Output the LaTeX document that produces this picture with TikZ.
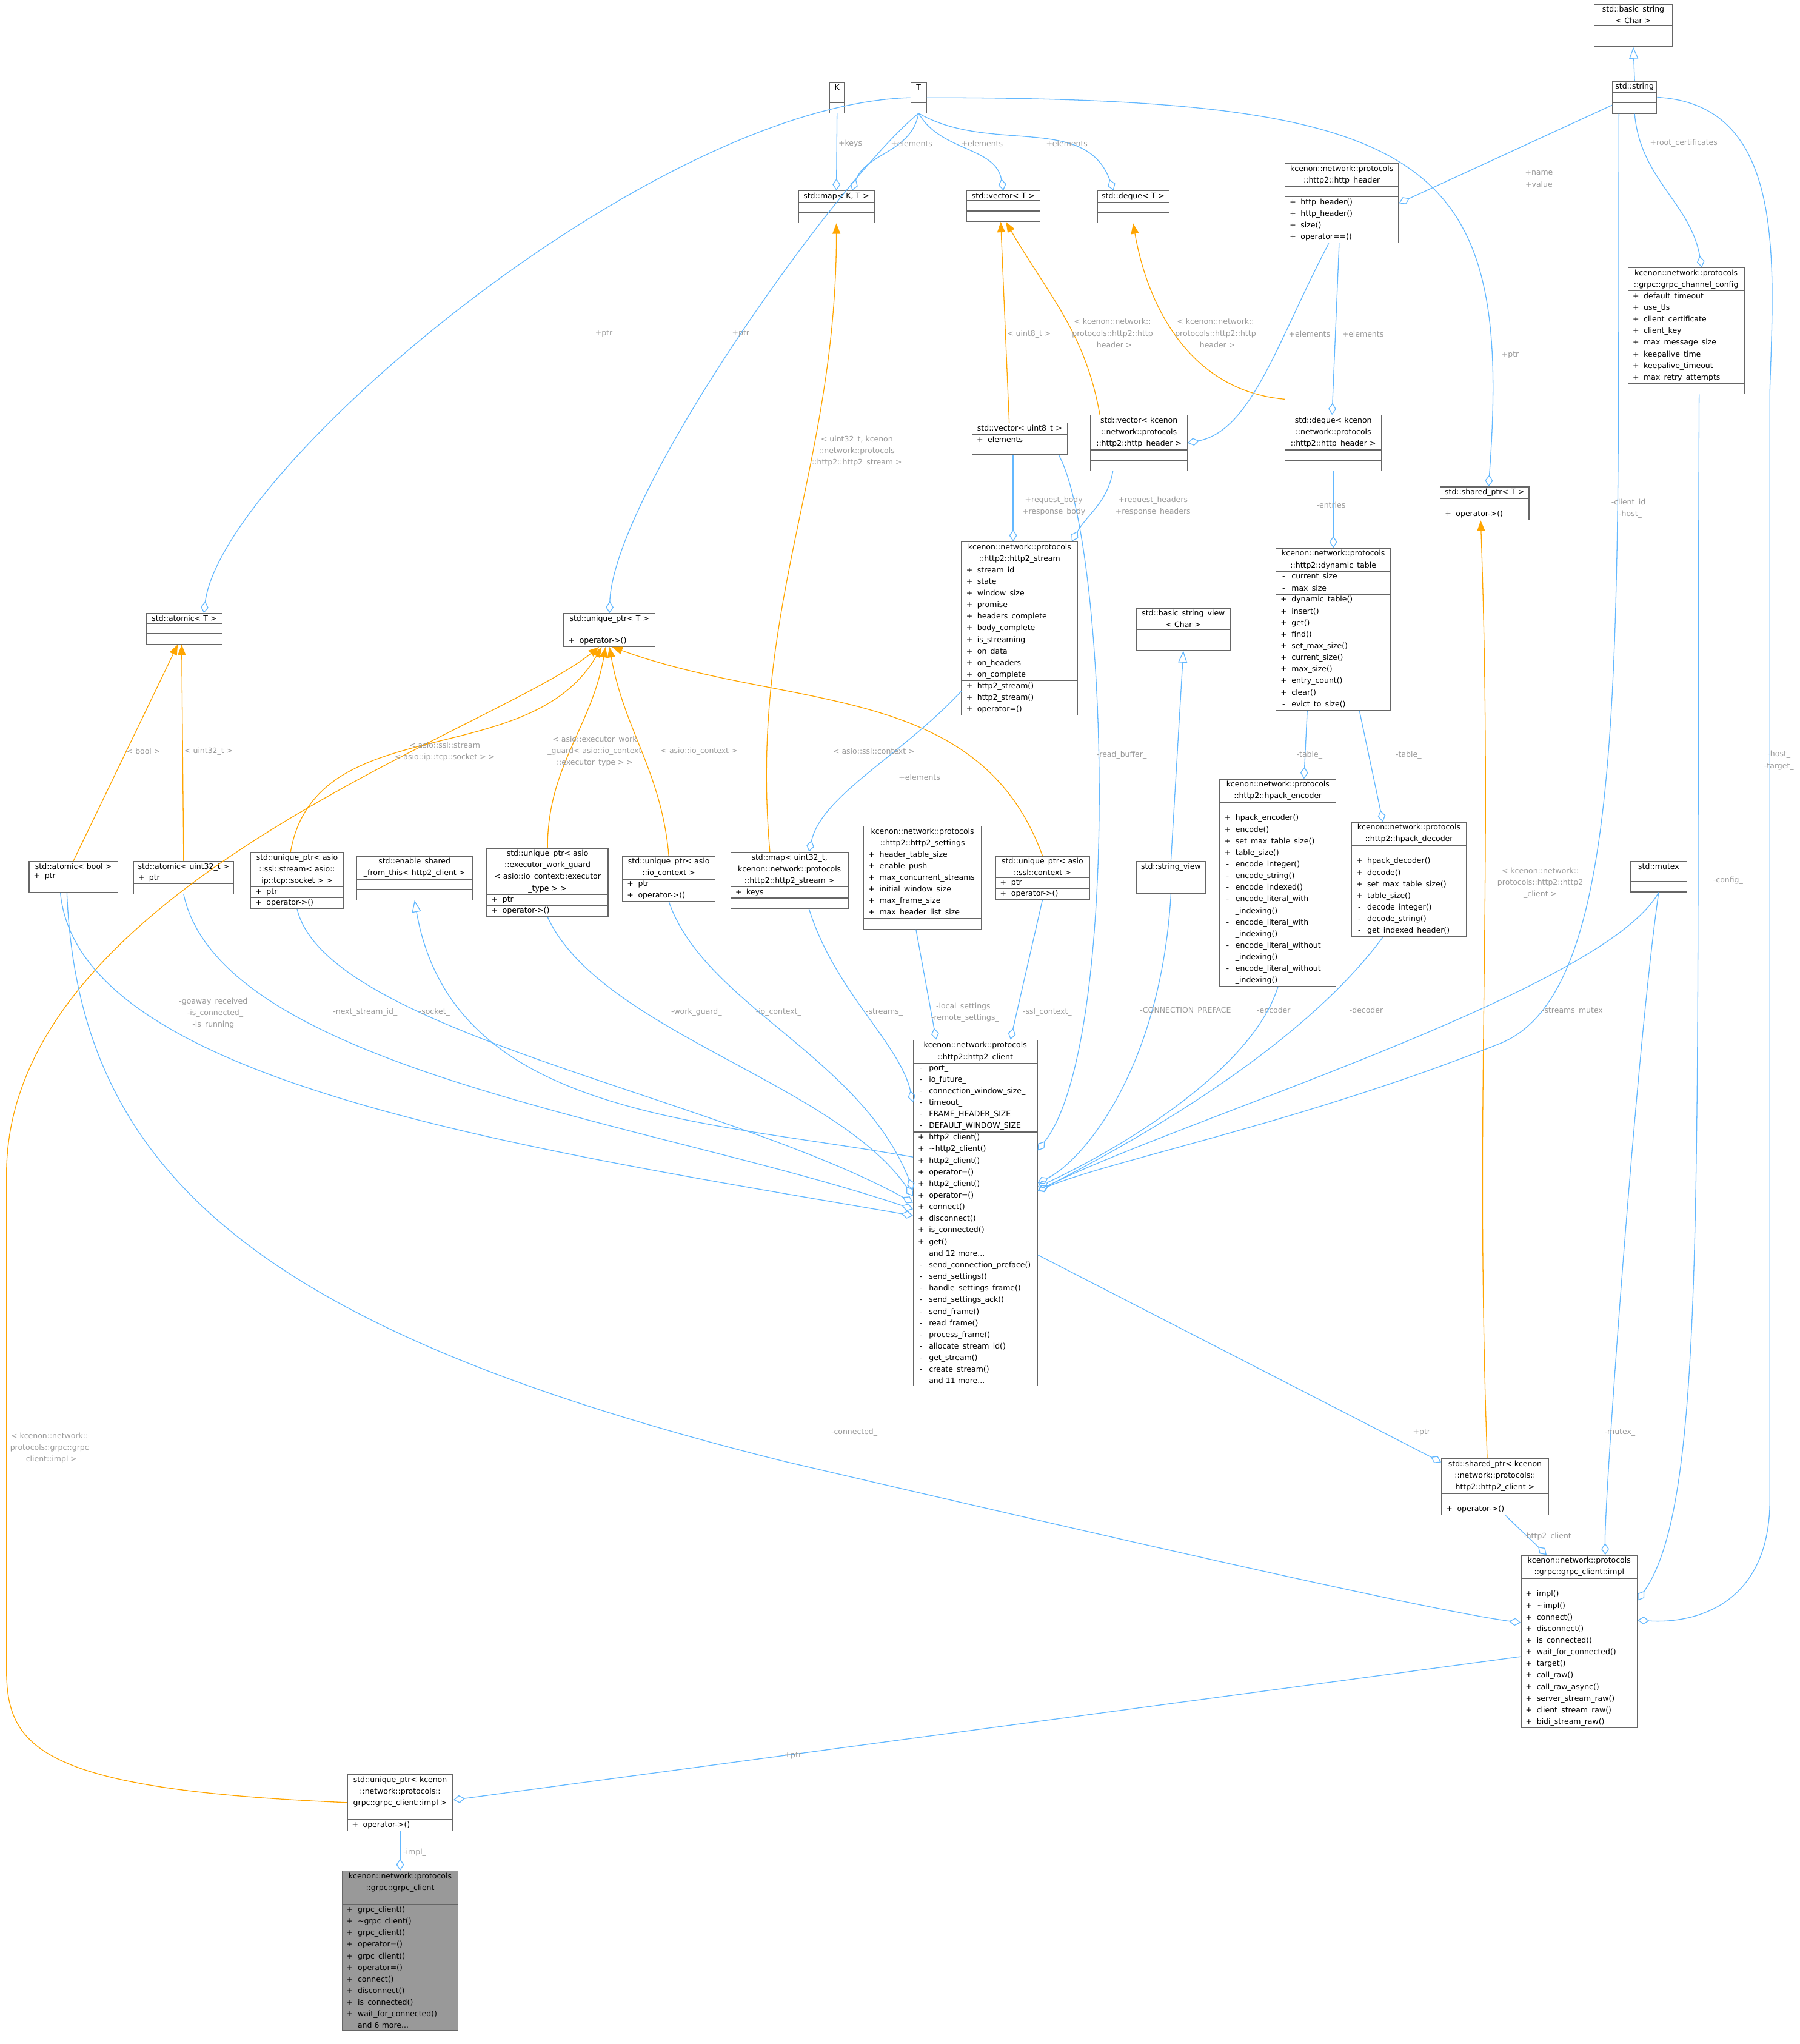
\documentclass[tikz,border=0pt]{standalone}
\usepackage{fontspec}
\setmainfont{DejaVu Sans}
\usepackage{tikz}
\usetikzlibrary{arrows.meta,shapes.multipart}
\definecolor{edgeblue}{HTML}{63B8FF}
\definecolor{edgeorange}{HTML}{FFA500}
\definecolor{lblgrey}{HTML}{9A9A9A}
\definecolor{boxgrey}{HTML}{666666}
\newcommand{\ttl}[1]{{\centering #1\par}}
\newcommand{\mem}[2]{\makebox[8pt][c]{#1}\hspace{2pt}#2}
\newcommand{\emp}{\rule{0pt}{5pt}}
\tikzset{
  cls/.style={draw=boxgrey, fill=white, rectangle split, rectangle split parts=3,
    anchor=north west, align=left, inner xsep=2pt, inner ysep=1.2pt,
    rectangle split empty part height=5pt},
  lbl/.style={text=lblgrey, align=center, inner sep=0pt},
  use/.style={draw=edgeblue, -{Diamond[open,length=9pt,width=6pt]}},
  tmpl/.style={draw=edgeorange, -{Triangle[length=8pt,width=6pt]}},
  inh/.style={draw=edgeblue, -{Triangle[open,length=9pt,width=7pt]}}
}
\begin{document}
\begin{tikzpicture}[x=1pt,y=-1pt,line width=0.6pt,font=\fontsize{5.8}{8.9}\selectfont]
	\useasboundingbox (0,0) rectangle (1380,1567);
	%
	%  CLASSES
	%
	\node[cls,text width=56pt] (strbase) at (1222,3) {\ttl{std::basic\_string\\< Char >}\nodepart{two}\emp\nodepart{three}\emp};
	\node[cls,text width=30pt] (str) at (1236,62) {\ttl{std::string}\nodepart{two}\emp\nodepart{three}\emp};
	\node[cls,text width=7pt] (K) at (636,63) {\ttl{K}\nodepart{two}\emp\nodepart{three}\emp};
	\node[cls,text width=8pt] (T) at (698,63) {\ttl{T}\nodepart{two}\emp\nodepart{three}\emp};
	\node[cls,text width=54pt] (mapKT) at (612,146) {\ttl{std::map< K, T >}\nodepart{two}\emp\nodepart{three}\emp};
	\node[cls,text width=52pt] (vecT) at (741,146) {\ttl{std::vector< T >}\nodepart{two}\emp\nodepart{three}\emp};
	\node[cls,text width=51pt] (dqT) at (841,146) {\ttl{std::deque< T >}\nodepart{two}\emp\nodepart{three}\emp};
	\node[cls,text width=83pt] (hdr) at (985,125) {\ttl{kcenon::network::protocols\\::http2::http\_header}\nodepart{two}\emp\nodepart{three}
		\mem{+}{http\_header()}\\\mem{+}{http\_header()}\\\mem{+}{size()}\\\mem{+}{operator==()}};
	\node[cls,text width=85pt] (cfg) at (1248,205) {\ttl{kcenon::network::protocols\\::grpc::grpc\_channel\_config}\nodepart{two}
		\mem{+}{default\_timeout}\\\mem{+}{use\_tls}\\\mem{+}{client\_certificate}\\\mem{+}{client\_key}\\\mem{+}{max\_message\_size}\\\mem{+}{keepalive\_time}\\\mem{+}{keepalive\_timeout}\\\mem{+}{max\_retry\_attempts}\nodepart{three}\emp};
	\node[cls,text width=69pt] (vecu8) at (745,324) {\ttl{std::vector< uint8\_t >}\nodepart{two}\mem{+}{elements}\nodepart{three}\emp};
	\node[cls,text width=70pt] (vechdr) at (836,318) {\ttl{std::vector< kcenon\\::network::protocols\\::http2::http\_header >}\nodepart{two}\emp\nodepart{three}\emp};
	\node[cls,text width=70pt] (dqhdr) at (985,318) {\ttl{std::deque< kcenon\\::network::protocols\\::http2::http\_header >}\nodepart{two}\emp\nodepart{three}\emp};
	\node[cls,text width=64pt] (spT) at (1104,373) {\ttl{std::shared\_ptr< T >}\nodepart{two}\emp\nodepart{three}\mem{+}{operator->()}};
	\node[cls,text width=85pt] (stream) at (737,415) {\ttl{kcenon::network::protocols\\::http2::http2\_stream}\nodepart{two}
		\mem{+}{stream\_id}\\\mem{+}{state}\\\mem{+}{window\_size}\\\mem{+}{promise}\\\mem{+}{headers\_complete}\\\mem{+}{body\_complete}\\\mem{+}{is\_streaming}\\\mem{+}{on\_data}\\\mem{+}{on\_headers}\\\mem{+}{on\_complete}\nodepart{three}
		\mem{+}{http2\_stream()}\\\mem{+}{http2\_stream()}\\\mem{+}{operator=()}};
	\node[cls,text width=84pt] (dyntab) at (978,420) {\ttl{kcenon::network::protocols\\::http2::dynamic\_table}\nodepart{two}
		\mem{-}{current\_size\_}\\\mem{-}{max\_size\_}\nodepart{three}
		\mem{+}{dynamic\_table()}\\\mem{+}{insert()}\\\mem{+}{get()}\\\mem{+}{find()}\\\mem{+}{set\_max\_size()}\\\mem{+}{current\_size()}\\\mem{+}{max\_size()}\\\mem{+}{entry\_count()}\\\mem{+}{clear()}\\\mem{-}{evict\_to\_size()}};
	\node[cls,text width=68pt] (bsv) at (871,466) {\ttl{std::basic\_string\_view\\< Char >}\nodepart{two}\emp\nodepart{three}\emp};
	\node[cls,text width=54pt] (atomT) at (112,470) {\ttl{std::atomic< T >}\nodepart{two}\emp\nodepart{three}\emp};
	\node[cls,text width=66pt] (upT) at (432,470) {\ttl{std::unique\_ptr< T >}\nodepart{two}\emp\nodepart{three}\mem{+}{operator->()}};
	\node[cls,text width=85pt] (enc) at (935,597) {\ttl{kcenon::network::protocols\\::http2::hpack\_encoder}\nodepart{two}\emp\nodepart{three}
		\mem{+}{hpack\_encoder()}\\\mem{+}{encode()}\\\mem{+}{set\_max\_table\_size()}\\\mem{+}{table\_size()}\\\mem{-}{encode\_integer()}\\\mem{-}{encode\_string()}\\\mem{-}{encode\_indexed()}\\
		\mem{-}{encode\_literal\_with}\\\mem{}{\_indexing()}\\\mem{-}{encode\_literal\_with}\\\mem{}{\_indexing()}\\\mem{-}{encode\_literal\_without}\\\mem{}{\_indexing()}\\\mem{-}{encode\_literal\_without}\\\mem{}{\_indexing()}};
	\node[cls,text width=84pt] (dec) at (1036,630) {\ttl{kcenon::network::protocols\\::http2::hpack\_decoder}\nodepart{two}\emp\nodepart{three}
		\mem{+}{hpack\_decoder()}\\\mem{+}{decode()}\\\mem{+}{set\_max\_table\_size()}\\\mem{+}{table\_size()}\\\mem{-}{decode\_integer()}\\\mem{-}{decode\_string()}\\\mem{-}{get\_indexed\_header()}};
	\node[cls,text width=86pt] (settings) at (662,633) {\ttl{kcenon::network::protocols\\::http2::http2\_settings}\nodepart{two}
		\mem{+}{header\_table\_size}\\\mem{+}{enable\_push}\\\mem{+}{max\_concurrent\_streams}\\\mem{+}{initial\_window\_size}\\\mem{+}{max\_frame\_size}\\\mem{+}{max\_header\_list\_size}\nodepart{three}\emp};
	\node[cls,text width=64pt] (atomb) at (22,660) {\ttl{std::atomic< bool >}\nodepart{two}\mem{+}{ptr}\nodepart{three}\emp};
	\node[cls,text width=73pt] (atomu) at (102,660) {\ttl{std::atomic< uint32\_t >}\nodepart{two}\mem{+}{ptr}\nodepart{three}\emp};
	\node[cls,text width=67pt] (upsock) at (192,653) {\ttl{std::unique\_ptr< asio\\::ssl::stream< asio::\\ip::tcp::socket > >}\nodepart{two}\mem{+}{ptr}\nodepart{three}\mem{+}{operator->()}};
	\node[cls,text width=85pt] (esft) at (273,656) {\ttl{std::enable\_shared\\\_from\_this< http2\_client >}\nodepart{two}\emp\nodepart{three}\emp};
	\node[cls,text width=89pt] (upwg) at (373,650) {\ttl{std::unique\_ptr< asio\\::executor\_work\_guard\\< asio::io\_context::executor\\\_type > >}\nodepart{two}\mem{+}{ptr}\nodepart{three}\mem{+}{operator->()}};
	\node[cls,text width=67pt] (upio) at (477,656) {\ttl{std::unique\_ptr< asio\\::io\_context >}\nodepart{two}\mem{+}{ptr}\nodepart{three}\mem{+}{operator->()}};
	\node[cls,text width=86pt] (mapstream) at (560,653) {\ttl{std::map< uint32\_t,\\kcenon::network::protocols\\::http2::http2\_stream >}\nodepart{two}\mem{+}{keys}\nodepart{three}\emp};
	\node[cls,text width=68pt] (upsslctx) at (763,656) {\ttl{std::unique\_ptr< asio\\::ssl::context >}\nodepart{two}\mem{+}{ptr}\nodepart{three}\mem{+}{operator->()}};
	\node[cls,text width=49pt] (sv) at (871,660) {\ttl{std::string\_view}\nodepart{two}\emp\nodepart{three}\emp};
	\node[cls,text width=39pt] (mutex) at (1250,660) {\ttl{std::mutex}\nodepart{two}\emp\nodepart{three}\emp};
	\node[cls,text width=91pt] (client) at (700,797) {\ttl{kcenon::network::protocols\\::http2::http2\_client}\nodepart{two}
		\mem{-}{port\_}\\\mem{-}{io\_future\_}\\\mem{-}{connection\_window\_size\_}\\\mem{-}{timeout\_}\\\mem{-}{FRAME\_HEADER\_SIZE}\\\mem{-}{DEFAULT\_WINDOW\_SIZE}\nodepart{three}
		\mem{+}{http2\_client()}\\\mem{+}{\textasciitilde http2\_client()}\\\mem{+}{http2\_client()}\\\mem{+}{operator=()}\\\mem{+}{http2\_client()}\\\mem{+}{operator=()}\\\mem{+}{connect()}\\\mem{+}{disconnect()}\\\mem{+}{is\_connected()}\\\mem{+}{get()}\\\mem{}{and 12 more...}\\
		\mem{-}{send\_connection\_preface()}\\\mem{-}{send\_settings()}\\\mem{-}{handle\_settings\_frame()}\\\mem{-}{send\_settings\_ack()}\\\mem{-}{send\_frame()}\\\mem{-}{read\_frame()}\\\mem{-}{process\_frame()}\\\mem{-}{allocate\_stream\_id()}\\\mem{-}{get\_stream()}\\\mem{-}{create\_stream()}\\\mem{}{and 11 more...}};
	\node[cls,text width=78pt] (sphttp) at (1105,1118) {\ttl{std::shared\_ptr< kcenon\\::network::protocols::\\http2::http2\_client >}\nodepart{two}\emp\nodepart{three}\mem{+}{operator->()}};
	\node[cls,text width=85pt] (impl) at (1166,1192) {\ttl{kcenon::network::protocols\\::grpc::grpc\_client::impl}\nodepart{two}\emp\nodepart{three}
		\mem{+}{impl()}\\\mem{+}{\textasciitilde impl()}\\\mem{+}{connect()}\\\mem{+}{disconnect()}\\\mem{+}{is\_connected()}\\\mem{+}{wait\_for\_connected()}\\\mem{+}{target()}\\\mem{+}{call\_raw()}\\\mem{+}{call\_raw\_async()}\\\mem{+}{server\_stream\_raw()}\\\mem{+}{client\_stream\_raw()}\\\mem{+}{bidi\_stream\_raw()}};
	\node[cls,text width=77pt] (upimpl) at (266,1360) {\ttl{std::unique\_ptr< kcenon\\::network::protocols::\\grpc::grpc\_client::impl >}\nodepart{two}\emp\nodepart{three}\mem{+}{operator->()}};
	\node[cls,text width=85pt,fill=black!40] (grpc) at (262,1434) {\ttl{kcenon::network::protocols\\::grpc::grpc\_client}\nodepart{two}\emp\nodepart{three}
		\mem{+}{grpc\_client()}\\\mem{+}{\textasciitilde grpc\_client()}\\\mem{+}{grpc\_client()}\\\mem{+}{operator=()}\\\mem{+}{grpc\_client()}\\\mem{+}{operator=()}\\\mem{+}{connect()}\\\mem{+}{disconnect()}\\\mem{+}{is\_connected()}\\\mem{+}{wait\_for\_connected()}\\\mem{}{and 6 more...}};
	%
	%  INHERITANCE
	%
	\draw[inh] (str.north) -- (strbase.south);
	\draw[inh] (sv.north) -- (bsv.south);
	\draw[inh] ([yshift=-90]client.north west) to[out=170,in=-80] (esft.south);
	%
	%  TEMPLATE INSTANCES
	%
	\draw[tmpl] (atomb.north) -- ([xshift=-5]atomT.south);
	\draw[tmpl] (atomu.north) -- ([xshift=-2]atomT.south);
	\draw[tmpl] ([xshift=-5]upsock.north) to[out=80,in=-120] ([xshift=-6]upT.south);
	\draw[tmpl] (upwg.north) to[out=90,in=-100] ([xshift=-3]upT.south);
	\draw[tmpl] (upio.north) to[out=95,in=-80] (upT.south);
	\draw[tmpl] (upsslctx.north) to[out=110,in=-20] ([xshift=2]upT.south);
	\draw[tmpl] ([xshift=-15]mapstream.north) to[out=95,in=-90] (mapKT.south);
	\draw[tmpl] ([xshift=-8]vecu8.north) -- ([xshift=-2]vecT.south);
	\draw[tmpl] ([xshift=-30]vechdr.north) to[out=100,in=-60] ([xshift=2]vecT.south);
	\draw[tmpl] ([yshift=12]dqhdr.north west) to[out=175,in=-80] (dqT.south);
	\draw[tmpl] ([xshift=-6]sphttp.north) to[out=92,in=-88] ([xshift=-3]spT.south);
	\draw[tmpl] (upimpl.west) .. controls (30,1372) and (5,1340) .. (5,1280) -- (5,900)
		.. controls (5,680) and (380,560) .. ([xshift=-8]upT.south);
	%
	%  USAGE
	%
	\draw[use] (K.south) -- (mapKT.north);
	\draw[use] (T.south) to[out=-100,in=70] ([xshift=12]mapKT.north);
	\draw[use] (T.south) to[out=-60,in=100] (vecT.north);
	\draw[use] (T.south) to[out=-30,in=110] ([xshift=-15]dqT.north);
	\draw[use] (T.west) .. controls (500,80) and (170,360) .. ([xshift=15]atomT.north);
	\draw[use] (T.south) .. controls (640,140) and (470,380) .. (upT.north);
	\draw[use] (T.east) .. controls (1100,75) and (1160,120) .. ([xshift=3]spT.north);
	\draw[use] ([yshift=-6]str.west) -- (hdr.east);
	\draw[use] (str.south) to[out=-85,in=100] ([xshift=12]cfg.north);
	\draw[use] ([xshift=-10]hdr.south) .. controls (980,260) and (960,330) .. (vechdr.east);
	\draw[use] ([xshift=-2]hdr.south) -- ([xshift=-1]dqhdr.north);
	\draw[use] ([xshift=-5]vecu8.south) -- ([xshift=-5]stream.north);
	\draw[use] ([xshift=-20]vechdr.south) to[out=-100,in=60] ([xshift=40]stream.north);
	\draw[use] (dqhdr.south) -- (dyntab.north);
	\draw[use] ([xshift=-20]dyntab.south) -- ([xshift=20]enc.north);
	\draw[use] ([xshift=20]dyntab.south) -- ([xshift=-20]dec.north);
	\draw[use] ([yshift=-115]stream.north west) .. controls (690,580) and (630,610) .. ([xshift=15]mapstream.north);
	%  members of http2_client, left side
	\draw[use] ([xshift=-10]atomb.south) .. controls (60,830) and (400,880) .. ([yshift=-135]client.north west);
	\draw[use] (atomu.south) .. controls (170,820) and (500,860) .. ([yshift=-130]client.north west);
	\draw[use] (upsock.south) .. controls (250,790) and (550,840) .. ([yshift=-125]client.north west);
	\draw[use] (upwg.south) .. controls (460,790) and (640,830) .. ([yshift=-120]client.north west);
	\draw[use] (upio.south) .. controls (540,770) and (660,810) .. ([yshift=-115]client.north west);
	\draw[use] ([xshift=15]mapstream.south) .. controls (640,760) and (690,800) .. ([yshift=-48]client.north west);
	\draw[use] ([xshift=-5]settings.south) -- ([xshift=-30]client.north);
	\draw[use] (upsslctx.south) -- ([xshift=27]client.north);
	%  members of http2_client, right side
	\draw[use] ([xshift=30]vecu8.south) .. controls (850,420) and (860,800) .. ([yshift=-85]client.north east);
	\draw[use] (sv.south) .. controls (890,820) and (830,890) .. ([yshift=-110]client.north east);
	\draw[use] (enc.south) .. controls (960,820) and (860,880) .. ([yshift=-113]client.north east);
	\draw[use] ([xshift=-20]dec.south) .. controls (1000,800) and (880,870) .. ([yshift=-116]client.north east);
	\draw[use] ([xshift=-12]str.south) .. controls (1240,500) and (1250,760) .. (1150,800)
		.. controls (1000,860) and (850,890) .. ([yshift=-116]client.north east);
	\draw[use] (mutex.south) .. controls (1230,760) and (900,860) .. ([yshift=-116]client.north east);
	%  members of grpc_client::impl
	\draw[use] (mutex.south) .. controls (1255,800) and (1230,1150) .. ([xshift=20]impl.north);
	\draw[use] ([xshift=10]cfg.south) .. controls (1300,900) and (1310,1150) .. ([yshift=-35]impl.north east);
	\draw[use] (str.east) .. controls (1370,80) and (1360,200) .. (1357,300) -- (1357,1150)
		.. controls (1357,1230) and (1300,1245) .. ([yshift=-50]impl.north east);
	\draw[use] ([yshift=-165]client.north east) -- ([yshift=-3]sphttp.north west);
	\draw[use] ([xshift=8]sphttp.south) -- ([xshift=-25]impl.north);
	\draw[use] ([xshift=-5]atomb.south) .. controls (60,900) and (200,1020) .. (600,1120)
		.. controls (900,1190) and (1100,1235) .. ([yshift=-52]impl.north west);
	\draw[use] ([yshift=-78]impl.north west) -- ([yshift=2]upimpl.east);
	\draw[use] (upimpl.south) -- (grpc.north);
	%
	%  EDGE LABELS
	%
	\node[lbl] (lkeys) at (652,110) {+keys};
	\node[lbl] (lelmap) at (699,110) {+elements};
	\node[lbl] (lelvec) at (753,110) {+elements};
	\node[lbl] (leldq) at (818,110) {+elements};
	\node[lbl] (lptra) at (463,256) {+ptr};
	\node[lbl] (lptru) at (568,256) {+ptr};
	\node[lbl] (lptrs) at (1158,272) {+ptr};
	\node[lbl] (lnameval) at (1180,137) {+name\\+value};
	\node[lbl] (lroot) at (1291,110) {+root\_certificates};
	\node[lbl] (lelvh) at (1004,256) {+elements};
	\node[lbl] (leldh) at (1045,256) {+elements};
	\node[lbl] (lu8) at (789,256) {< uint8\_t >};
	\node[lbl] (lvh) at (853,256) {< kcenon::network::\\protocols::http2::http\\\_header >};
	\node[lbl] (ldh) at (932,256) {< kcenon::network::\\protocols::http2::http\\\_header >};
	\node[lbl] (lms) at (657,346) {< uint32\_t, kcenon\\::network::protocols\\::http2::http2\_stream >};
	\node[lbl] (lbody) at (808,388) {+request\_body\\+response\_body};
	\node[lbl] (lheaders) at (884,388) {+request\_headers\\+response\_headers};
	\node[lbl] (lentries) at (1022,388) {-entries\_};
	\node[lbl] (lhost) at (1250,390) {-client\_id\_\\-host\_};
	\node[lbl] (lhost2) at (1364,583) {-host\_\\-target\_};
	\node[lbl] (ltab1) at (1004,579) {-table\_};
	\node[lbl] (ltab2) at (1080,579) {-table\_};
	\node[lbl] (lread) at (860,579) {-read\_buffer\_};
	\node[lbl] (lelst) at (705,596) {+elements};
	\node[lbl] (lbool) at (110,576) {< bool >};
	\node[lbl] (luint) at (160,576) {< uint32\_t >};
	\node[lbl] (lsock) at (341,576) {< asio::ssl::stream\\< asio::ip::tcp::socket > >};
	\node[lbl] (lwg) at (456,576) {< asio::executor\_work\\\_guard< asio::io\_context\\::executor\_type > >};
	\node[lbl] (lio) at (536,576) {< asio::io\_context >};
	\node[lbl] (lsslc) at (670,576) {< asio::ssl::context >};
	\node[lbl] (lsph) at (1181,677) {< kcenon::network::\\protocols::http2::http2\\\_client >};
	\node[lbl] (lcfg) at (1325,675) {-config\_};
	\node[lbl] (lgoaway) at (165,777) {-goaway\_received\_\\-is\_connected\_\\-is\_running\_};
	\node[lbl] (lnext) at (280,776) {-next\_stream\_id\_};
	\node[lbl] (lsocket) at (333,776) {-socket\_};
	\node[lbl] (lwork) at (534,776) {-work\_guard\_};
	\node[lbl] (lioc) at (597,776) {-io\_context\_};
	\node[lbl] (lstreams) at (678,776) {-streams\_};
	\node[lbl] (lsett) at (740,776) {-local\_settings\_\\-remote\_settings\_};
	\node[lbl] (lsslctx) at (803,776) {-ssl\_context\_};
	\node[lbl] (lpref) at (909,775) {-CONNECTION\_PREFACE};
	\node[lbl] (lenc) at (978,775) {-encoder\_};
	\node[lbl] (ldec) at (1049,775) {-decoder\_};
	\node[lbl] (lmutex) at (1207,775) {-streams\_mutex\_};
	\node[lbl] (lconn) at (655,1098) {-connected\_};
	\node[lbl] (lptrh) at (1090,1098) {+ptr};
	\node[lbl] (lmut) at (1242,1098) {-mutex\_};
	\node[lbl] (lhc) at (1188,1178) {-http2\_client\_};
	\node[lbl] (lptri) at (608,1346) {+ptr};
	\node[lbl] (limpl) at (318,1420) {-impl\_};
	\node[lbl] (lupi) at (38,1110) {< kcenon::network::\\protocols::grpc::grpc\\\_client::impl >};
\end{tikzpicture}
\end{document}
